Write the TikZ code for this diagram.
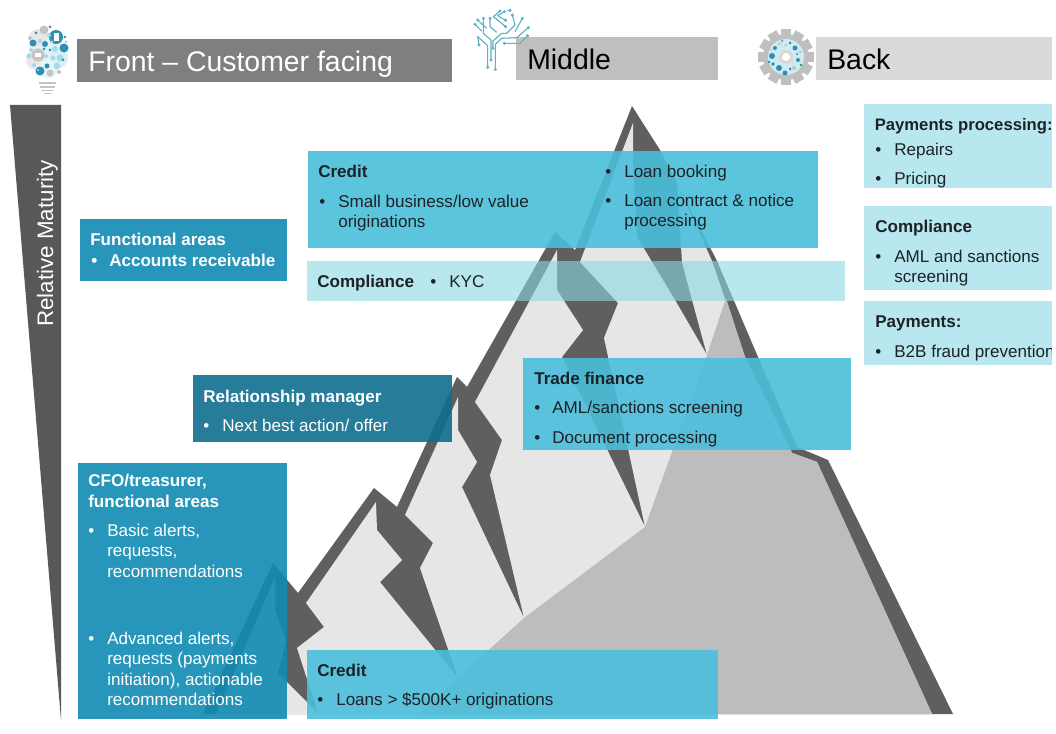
\documentclass[tikz,border=0pt]{standalone}
\usepackage{fontspec}
\setmainfont{Liberation Sans}
\definecolor{hdrA}{HTML}{7F7F7F}
\definecolor{hdrB}{HTML}{BFBFBF}
\definecolor{hdrC}{HTML}{D9D9D9}
\definecolor{rockdark}{HTML}{5F5F5F}
\definecolor{rocklight}{HTML}{E6E6E6}
\definecolor{rockmid}{HTML}{BDBDBD}
\definecolor{cyanbox}{HTML}{4BBFDB}
\definecolor{palebox}{HTML}{8AD7E4}
\definecolor{paleflat}{HTML}{B9E7EF}
\definecolor{tealbox}{RGB}{17,139,179}
\definecolor{deepbox}{RGB}{16,110,144}
\definecolor{inkdark}{HTML}{1C2226}
\definecolor{icoblue}{HTML}{2E8FB5}
\definecolor{icocyan}{HTML}{A5DAE8}
\definecolor{icogray}{HTML}{C9C2C2}
\definecolor{treeline}{HTML}{5FB0C8}
\newcommand{\blt}[1]{\makebox[#1][l]{•}}
\tikzset{
  body/.style={anchor=base west,inner sep=0pt,text=inkdark,font=\fontsize{12.8}{15}\selectfont},
  bodyb/.style={body,font=\fontsize{12.8}{15}\selectfont\bfseries},
  wbody/.style={body,text=white},
  wbodyb/.style={bodyb,text=white},
  hdr/.style={anchor=base west,inner sep=0pt,font=\fontsize{21.3}{25}\selectfont},
  cbox/.style={fill=cyanbox,fill opacity=.9},
  pbox/.style={fill=palebox,fill opacity=.6},
  rbox/.style={fill=paleflat},
  tbox/.style={fill=tealbox,fill opacity=.9},
  dbox/.style={fill=deepbox,fill opacity=.9},
  trace/.style={draw=treeline,line width=.85pt,line join=round},
  tdot/.style={fill=treeline}
}
\begin{document}
\begin{tikzpicture}[x=0.75pt,y=-0.75pt]
\useasboundingbox (0,0) rectangle (1056,734);
\fill[white] (0,0) rectangle (1056,734);
% header bars
\fill[hdrA] (77,39) rectangle (452,82);
\fill[hdrB] (516,37) rectangle (718,80);
\fill[hdrC] (816,37) rectangle (1052,80);
\node[hdr,text=white] (hfront) at (88,72) {Front – Customer facing};
\node[hdr,text=black] (hmiddle) at (527,70) {Middle};
\node[hdr,text=black] (hback) at (827,70) {Back};
% maturity wedge
\fill[rockdark!93!black] (10,105) -- (61,105) -- (61,720) -- cycle;
\node[anchor=base,inner sep=0pt,text=white,rotate=90,font=\fontsize{16.8}{20}\selectfont] (maturity) at (53,243.5) {Relative Maturity};
% mountain silhouette
\fill[rockdark] (203,714) -- (273,563) -- (298,593) -- (374,488) -- (397,507) -- (457,377) -- (467,387)
  -- (555,232) -- (575,250) -- (632,106) -- (660,150) -- (717,261) -- (758,357) -- (797,447) -- (828,460) -- (953,714) -- cycle;
% light face with cracks
\fill[rocklight] (216,714) -- (275,577) -- (275,610) -- (286,640) -- (278,673) -- (318,713)
  -- (297,648) -- (324,627) -- (306,603) -- (376,502) -- (377,530) -- (402,560) -- (380,582) -- (458,678)
  -- (420,568) -- (433,543) -- (405,515) -- (458,397) -- (458,430) -- (477,462) -- (462,487) -- (524,618)
  -- (490,475) -- (502,440) -- (475,402) -- (557,250) -- (557,290) -- (583,330) -- (562,357) -- (645,527)
  -- (604,338) -- (618,303) -- (580,262) -- (633,123) -- (633,163) -- (637,237) -- (675,300) -- (707,355)
  -- (692,300) -- (682,262) -- (677,183) -- (712,261) -- (745,357) -- (792,453) -- (817,462) -- (932,714) -- cycle;
% shadow face
\fill[rockmid] (420,714) -- (458,678) -- (524,618) -- (645,527) -- (707,355) -- (726,298) -- (745,357) -- (792,453) -- (817,462) -- (932,714) -- cycle;
% translucent panels
\fill[tbox] (80,219) rectangle (287,281);
\fill[cbox] (308,151) rectangle (818,248);
\fill[pbox] (307,261) rectangle (845,301);
\fill[cbox] (523,358) rectangle (851,450);
\fill[dbox] (193,375) rectangle (452,442);
\fill[tbox] (78,463) rectangle (287,719);
\fill[cbox] (307,650) rectangle (718,719);
\fill[rbox] (864,104) rectangle (1056,188);
\fill[rbox] (864,206) rectangle (1056,290);
\fill[rbox] (864,301) rectangle (1056,365);
% panel texts
\node[wbodyb] (fa1) at (90,246) {Functional areas};
\node[wbodyb] (fa2) at (91,266.5) {\blt{13.5pt}Accounts receivable};
\node[bodyb] (cr1) at (318,178) {Credit};
\node[body] (cr2) at (319,208) {\blt{14.25pt}Small business/low value};
\node[body] (cr3) at (338,228) {originations};
\node[body] (cr4) at (605,178) {\blt{14.25pt}Loan booking};
\node[body] (cr5) at (605,207) {\blt{14.25pt}Loan contract \& notice};
\node[body] (cr6) at (624,227) {processing};
\node[bodyb] (co1) at (317,287) {Compliance};
\node[body] (co2) at (430,287) {\blt{14.25pt}KYC};
\node[wbodyb] (rm1) at (203,402) {Relationship manager};
\node[wbody] (rm2) at (203,431.5) {\blt{14.25pt}Next best action/ offer};
\node[bodyb] (tf1) at (534,384) {Trade finance};
\node[body] (tf2) at (534,413) {\blt{13.5pt}AML/sanctions screening};
\node[body] (tf3) at (534,443) {\blt{13.5pt}Document processing};
\node[wbodyb] (cf1) at (88,486) {CFO/treasurer,};
\node[wbodyb] (cf2) at (88,507) {functional areas};
\node[wbody] (cf3) at (88,536) {\blt{14.25pt}Basic alerts,};
\node[wbody] (cf4) at (107,556.5) {requests,};
\node[wbody] (cf5) at (107,577) {recommendations};
\node[wbody] (cf6) at (88,644) {\blt{14.25pt}Advanced alerts,};
\node[wbody] (cf7) at (107,664) {requests (payments};
\node[wbody] (cf8) at (107,685) {initiation), actionable};
\node[wbody] (cf9) at (107,705) {recommendations};
\node[bodyb] (cb1) at (317,676) {Credit};
\node[body] (cb2) at (317,705.5) {\blt{14.25pt}Loans > \$500K+ originations};
\node[bodyb,font=\fontsize{12.5}{15}\selectfont\bfseries] (pp1) at (874.5,131) {Payments processing:};
\node[body] (pp2) at (875,156) {\blt{14.25pt}Repairs};
\node[body] (pp3) at (875,185) {\blt{14.25pt}Pricing};
\node[bodyb] (rc1) at (875,233) {Compliance};
\node[body] (rc2) at (875,262.5) {\blt{14.25pt}AML and sanctions};
\node[body] (rc3) at (894,282) {screening};
\node[bodyb] (py1) at (875,327) {Payments:};
\node[body] (py2) at (875,357) {\blt{14.25pt}B2B fraud prevention};
% page edge strip
\fill[white] (1052,0) rectangle (1056,734);
% bulb icon
\foreach \x/\y/\r/\c in {
 47/50/17/icocyan!35!white, 38/38/9/icogray!40!white, 58/58/10/icocyan!40!white, 36/60/10/icogray!40!white, 48/68/10/icocyan!30!white}
  {\fill[\c] (\x,\y) circle (\r);}
\foreach \x/\y/\r/\c in {
 56/37/7/icoblue, 38/55/6.5/icogray, 33/43/3.5/icoblue, 44/30/4.5/icogray, 45/44/3/icoblue, 64/48/4.5/icoblue,
 50/27/1.5/icoblue, 29/56/2.5/icocyan, 31/50/2/icocyan, 30/38/2/icogray, 40/41/2.2/icocyan, 55/49/3/icocyan,
 60/58/3.5/icocyan, 53/58/2.5/icocyan, 46/56/2/icocyan, 40/71/4.5/icoblue, 50/73/3.5/icogray, 57/66/3.5/icocyan,
 47/66/2.5/icoblue, 34/65/2/icocyan, 65/37/1.3/icoblue, 63/60/1.5/icoblue, 52/42/1.5/icogray, 49/35/2/icocyan,
 59/72/2/icogray, 36/33/1.5/icoblue, 66/42/1.5/icogray, 44/49/1.5/icoblue, 38/70/1.2/icocyan, 50/50/1.5/icoblue}
  {\fill[\c] (\x,\y) circle (\r);}
\fill[white] (56,37) ++(-2.5,-4) rectangle ++(5,8);
\fill[white] (38,55) ++(-3,-2) rectangle ++(6,4);
\fill[icogray] (39,82) rectangle (56,84);
\fill[icogray] (40,86) rectangle (55,88);
\fill[icogray] (41,90) rectangle (54,91.5);
\fill[icogray] (44,93) rectangle (51,94.5);
% circuit tree icon, in the crop's own scale
\begin{scope}[shift={(465,5)},x=0.25pt,y=-0.25pt]
\draw[trace] (68,187) -- (68,122) -- (38,95) -- (42,120);
\draw[trace] (78,165) -- (78,105) -- (55,85) -- (55,40);
\draw[trace] (91,193) -- (91,118) -- (110,100) -- (155,98) -- (190,68);
\draw[trace] (118,115) -- (165,115) -- (188,92);
\draw[trace] (84,130) -- (84,108) -- (110,85) -- (125,85) -- (150,60) -- (142,30);
\draw[trace] (38,45) -- (65,70);
\draw[trace] (30,58) -- (50,78);
\draw[trace] (75,40) -- (75,65) -- (95,82);
\draw[trace] (105,18) -- (85,35) -- (122,65);
\draw[trace] (118,20) -- (98,32) -- (122,46);
\draw[trace] (125,16) -- (135,16);
\draw[trace] (172,40) -- (150,80);
\foreach \x/\y in {68/187,78/165,91/193,118/115,188/92,190/68,42/120,55/40,142/30,38/45,30/58,75/40,105/18,122/65,118/20,122/46,135/16,172/40,84/130}
  {\fill[tdot] (\x,\y) circle (5);}
\end{scope}
% gear icon
\foreach \a in {0,30,...,330}
  {\fill[hdrB,rotate around={\a:(786,57)}] (781,29) rectangle (791,40);}
\fill[hdrB] (786,57) circle (23);
\fill[icocyan!55!white] (786,57) circle (18);
\foreach \x/\y/\r/\c in {
 772/56/3/icoblue, 775/48/2/icoblue, 779/68/3/icoblue, 773/64/1.8/icoblue, 785/73/2.5/icoblue, 795/48/2.5/icoblue,
 798/60/2/icoblue, 794/68/2/icogray, 800/52/1.5/icogray, 779/44/1.5/icogray, 790/43/1.5/icoblue, 786/45/1.3/icogray, 769/62/1.3/icoblue, 801/65/1.3/icoblue,
 790/69/1.5/icoblue, 771/50/1.2/icogray, 797/54/1.2/icoblue, 782/41/1/icoblue}
  {\fill[\c] (\x,\y) circle (\r);}
\fill[hdrB!60!white] (786,57) circle (7);
\fill[white] (786,57) circle (4);
\end{tikzpicture}
\end{document}
